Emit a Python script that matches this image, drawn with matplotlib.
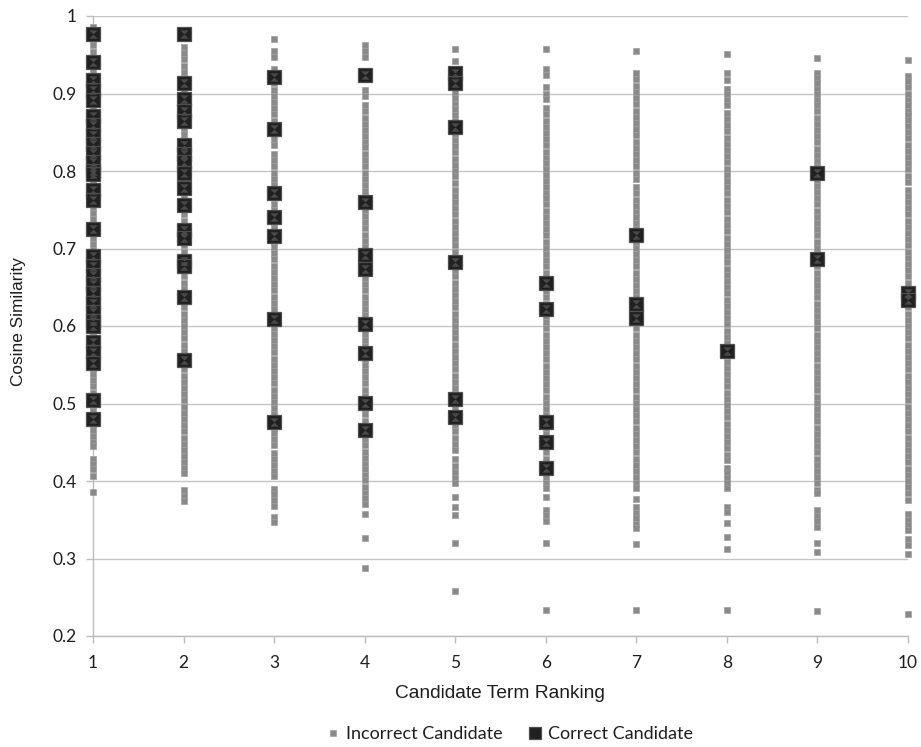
import numpy as np
import matplotlib
matplotlib.use("Agg")
import matplotlib.pyplot as plt
from matplotlib.path import Path
from matplotlib.lines import Line2D

# ---------------- data (cosine similarity x 1000) ----------------
ranks = [1, 2, 3, 4, 5, 6, 7, 8, 9, 10]
tick_labels_y = ["0.2", "0.3", "0.4", "0.5", "0.6", "0.7", "0.8", "0.9", "1"]

incorrect_r1 = [986, 978, 970, 962, 954, 946, 938, 930, 922, 914, 906, 898, 890, 882, 874, 866, 858, 850,
                842, 834, 826, 818, 810, 802, 794, 786, 778, 770, 762, 754, 746, 738, 730, 722, 714, 706,
                698, 690, 682, 674, 666, 658, 650, 642, 634, 626, 618, 610, 602, 594, 586, 578, 570, 562,
                554, 546, 538, 530, 522, 514, 506, 498, 490, 482, 474, 466, 458, 450, 445, 429, 422, 415,
                407, 386]
incorrect_r2 = [960, 952, 944, 936, 928, 920, 912, 904, 896, 888, 880, 872, 864, 856, 848, 840, 832, 824,
                816, 808, 800, 792, 784, 776, 768, 760, 752, 744, 736, 728, 720, 712, 704, 696, 688, 680,
                672, 664, 656, 648, 640, 632, 624, 616, 608, 600, 592, 584, 576, 568, 560, 552, 544, 536,
                528, 520, 512, 504, 496, 488, 480, 472, 464, 456, 448, 440, 432, 424, 417, 410, 388, 381,
                374]
incorrect_r3 = [970, 955, 947, 932, 913, 905, 897, 889, 881, 873, 865, 857, 849, 841, 833, 822, 814, 806,
                798, 790, 782, 774, 766, 758, 750, 742, 734, 726, 718, 710, 702, 694, 686, 678, 670, 662,
                654, 646, 638, 630, 622, 614, 606, 598, 590, 582, 574, 566, 558, 550, 542, 534, 526, 518,
                510, 502, 494, 486, 478, 470, 462, 454, 446, 436, 429, 421, 413, 407, 390, 383, 375, 368,
                354, 347]
incorrect_r4 = [962, 955, 947, 905, 897, 885, 877, 869, 861, 853, 845, 837, 831, 822, 814, 806, 798, 790,
                782, 774, 766, 758, 750, 742, 734, 726, 718, 710, 702, 694, 686, 678, 670, 662, 654, 646,
                638, 630, 622, 614, 606, 598, 590, 582, 574, 566, 558, 550, 542, 534, 526, 518, 510, 502,
                494, 486, 478, 470, 462, 454, 446, 437, 430, 422, 415, 408, 401, 392, 385, 378, 370, 357,
                327, 288]
incorrect_r5 = [957, 942, 901, 894, 887, 880, 872, 864, 856, 848, 840, 832, 824, 816, 808, 800, 793, 784,
                776, 768, 760, 752, 744, 736, 728, 720, 712, 704, 696, 688, 680, 672, 664, 656, 648, 640,
                632, 624, 616, 608, 600, 592, 584, 576, 568, 560, 552, 544, 536, 528, 520, 512, 504, 496,
                488, 480, 472, 464, 456, 448, 440, 428, 420, 412, 404, 397, 380, 366, 356, 320, 258]
incorrect_r6 = [957, 931, 924, 908, 900, 893, 881, 873, 865, 857, 849, 841, 833, 825, 817, 810, 803, 795,
                787, 779, 771, 765, 757, 749, 741, 733, 725, 717, 709, 701, 693, 685, 677, 669, 661, 653,
                645, 637, 629, 621, 613, 605, 597, 589, 581, 573, 565, 557, 549, 541, 533, 525, 517, 509,
                501, 493, 485, 477, 469, 461, 453, 445, 437, 429, 421, 413, 405, 398, 391, 380, 363, 356,
                349, 320, 233]
incorrect_r7 = [955, 927, 919, 910, 902, 894, 886, 878, 870, 862, 854, 846, 838, 830, 822, 814, 806, 798,
                790, 779, 771, 763, 755, 747, 741, 733, 725, 717, 709, 701, 693, 685, 677, 669, 661, 653,
                645, 637, 629, 621, 613, 605, 597, 589, 581, 573, 565, 557, 549, 541, 533, 525, 517, 509,
                501, 493, 485, 477, 469, 461, 453, 445, 437, 429, 421, 413, 405, 398, 391, 377, 366, 359,
                352, 345, 340, 319, 233]
incorrect_r8 = [951, 927, 918, 906, 899, 892, 885, 875, 867, 859, 851, 843, 835, 827, 819, 811, 803, 795,
                787, 779, 771, 763, 755, 747, 738, 730, 722, 714, 706, 698, 690, 682, 674, 666, 658, 650,
                642, 634, 626, 618, 610, 602, 594, 586, 578, 570, 562, 554, 546, 538, 530, 522, 514, 506,
                498, 490, 482, 474, 466, 458, 450, 442, 434, 427, 417, 410, 404, 397, 391, 367, 360, 346,
                328, 312, 233]
incorrect_r9 = [946, 927, 920, 913, 906, 899, 892, 885, 878, 869, 861, 853, 845, 837, 829, 821, 813, 805,
                797, 789, 781, 773, 765, 757, 749, 741, 733, 725, 717, 709, 701, 693, 685, 677, 669, 661,
                653, 645, 637, 629, 621, 613, 605, 597, 589, 581, 573, 565, 557, 549, 541, 533, 525, 517,
                509, 501, 493, 485, 477, 469, 461, 453, 445, 437, 429, 421, 413, 405, 397, 389, 385, 362,
                355, 348, 341, 320, 308, 232]
incorrect_r10 = [943, 923, 916, 909, 899, 892, 885, 878, 872, 866, 858, 850, 842, 834, 826, 818, 810, 802,
                 794, 786, 776, 768, 760, 752, 744, 736, 728, 720, 712, 704, 696, 688, 680, 672, 664, 656,
                 648, 640, 632, 624, 616, 608, 600, 592, 584, 576, 568, 560, 552, 544, 536, 528, 520, 512,
                 504, 496, 488, 480, 472, 464, 456, 448, 440, 432, 424, 416, 408, 400, 392, 384, 376, 357,
                 350, 343, 337, 325, 318, 306, 228]

correct_r1 = [977, 941, 918, 905, 892, 871, 859, 847, 835, 823, 811, 800, 796, 776, 762, 725, 690, 678,
              666, 654, 642, 630, 618, 606, 600, 580, 566, 552, 505, 480]
correct_r2 = [977, 913, 893, 877, 865, 834, 822, 811, 798, 778, 756, 724, 714, 684, 677, 638, 556]
correct_r3 = [921, 854, 772, 741, 716, 609, 476]
correct_r4 = [924, 760, 691, 674, 602, 565, 501, 466]
correct_r5 = [926, 913, 857, 682, 506, 483]
correct_r6 = [656, 622, 476, 450, 417]
correct_r7 = [718, 628, 610]
correct_r8 = [568]
correct_r9 = [798, 686]
correct_r10 = [642, 634]

incorrect = [incorrect_r1, incorrect_r2, incorrect_r3, incorrect_r4, incorrect_r5,
             incorrect_r6, incorrect_r7, incorrect_r8, incorrect_r9, incorrect_r10]
correct = [correct_r1, correct_r2, correct_r3, correct_r4, correct_r5,
           correct_r6, correct_r7, correct_r8, correct_r9, correct_r10]

# ---------------- styling ----------------
W, H = 921, 747
fig = plt.figure(figsize=(W / 100, H / 100), dpi=100)
ax = fig.add_axes([93 / W, 111 / H, 815 / W, 620 / H])

hourglass = Path([(-0.5, 0.5), (0.5, 0.5), (-0.5, -0.5), (0.5, -0.5), (-0.5, 0.5)],
                 [Path.MOVETO, Path.LINETO, Path.LINETO, Path.LINETO, Path.CLOSEPOLY])

inc_style = dict(ls="none", marker="s", ms=4.5, mfc="#8a8a8a", mec="#a0a0a0", mew=0.5,
                 clip_on=False, zorder=3)
cor_style = dict(ls="none", marker="s", ms=9.6, mfc="#202020", mec="#4e4e4e", mew=0.9,
                 clip_on=False, zorder=4)
cor_inner = dict(ls="none", marker=hourglass, ms=6.0, mfc="#4a4a4a", mec="none",
                 clip_on=False, zorder=5)

for r, vals in zip(ranks, incorrect):
    v = np.array(vals) / 1000.0
    ax.plot(np.full(len(v), r), v, **inc_style)
for r, vals in zip(ranks, correct):
    v = np.array(vals) / 1000.0
    ax.plot(np.full(len(v), r), v, **cor_style)
    ax.plot(np.full(len(v), r), v, **cor_inner)

ax.set_xlim(1, 10)
ax.set_ylim(0.2, 1.0)
yt = [float(t) for t in tick_labels_y]
ax.set_yticks(yt)
ax.set_yticklabels(tick_labels_y)
ax.set_xticks(ranks)
ax.set_xticklabels([str(r) for r in ranks])

ax.set_axisbelow(True)
ax.yaxis.grid(True, color="#c4c4c4", lw=1.0)
ax.xaxis.grid(False)
for s in ["top", "right"]:
    ax.spines[s].set_visible(False)
for s in ["left", "bottom"]:
    ax.spines[s].set_color("#bcbcbc")
    ax.spines[s].set_linewidth(1.0)
ax.tick_params(axis="both", direction="out", length=5, width=1.0, color="#bcbcbc",
               labelcolor="#1e1e1e", labelsize=12.5)
ax.tick_params(axis="x", pad=9)
ax.tick_params(axis="y", pad=7)
for lab in ax.get_xticklabels() + ax.get_yticklabels():
    lab.set_fontfamily(["Lato", "DejaVu Sans"])

fig.text(19 / W, 1 - 322 / H, "Cosine Similarity", rotation=90, ha="center", va="center",
         fontsize=12.4, family=["Liberation Sans", "DejaVu Sans"], color="#1e1e1e")
fig.text(500 / W, 1 - 693 / H, "Candidate Term Ranking", ha="center", va="center",
         fontsize=13.8, family=["Liberation Sans", "DejaVu Sans"], color="#1e1e1e")

handles = [
    Line2D([], [], ls="none", marker="s", ms=4.4, mfc="#8a8a8a", mec="#a0a0a0", mew=0.5),
    Line2D([], [], ls="none", marker="s", ms=8.0, mfc="#202020", mec="#4e4e4e", mew=0.9),
]
leg = fig.legend(handles, ["Incorrect Candidate", "Correct Candidate"], loc="center",
                 bbox_to_anchor=(510 / W, 1 - 734 / H), ncol=2, frameon=False,
                 handlelength=0.7, handletextpad=0.35, columnspacing=1.45,
                 prop={"family": ["Lato", "DejaVu Sans"], "size": 13.0})
for t in leg.get_texts():
    t.set_color("#1e1e1e")

fig.savefig("out.png", dpi=100, facecolor="white")
